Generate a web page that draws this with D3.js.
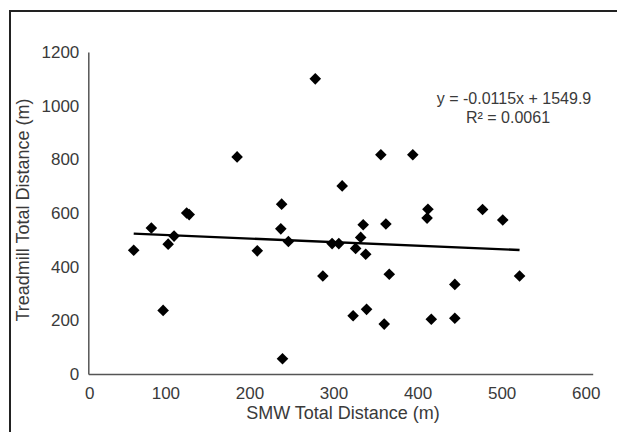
<!DOCTYPE html>
<html>
<head>
<meta charset="utf-8">
<script src="https://cdn.jsdelivr.net/npm/d3@7"></script>
<style>
body { margin:0; background:#fff; }
text { font-family: "Liberation Sans", Arial, sans-serif; fill:#3a3a3a; }
</style>
</head>
<body>
<div id="chart"></div>
<script>
// SMW vs treadmill distance
var smw  = [54, 75, 89, 95, 102, 117, 120, 177, 201, 230, 229, 238, 231, 270, 279, 290, 298, 302,
            315, 318, 324, 327, 330, 331, 348, 352, 354, 358, 386, 404, 403, 408, 436, 436, 469, 493, 513]
var tread = [461, 544, 237, 484, 514, 600, 594, 809, 459, 633, 541, 494, 57, 1100, 365, 486, 486, 701,
             217, 468, 509, 556, 446, 241, 817, 186, 559, 372, 817, 614, 581, 204, 334, 208, 613, 574, 365]
// trendline ends as drawn
var trendX = [54, 513]
var trendY = [523, 462]
var xTicks = [0, 100, 200, 300, 400, 500, 600]
var yTicks = [0, 200, 400, 600, 800, 1000, 1200]
var eqLines = ['y = -0.0115x + 1549.9', 'R² = 0.0061']

var W = 617, H = 432
var svg = d3.select('#chart').append('svg').attr('width', W).attr('height', H)

// outer frame
svg.append('path').attr('d', 'M10,432 V11 H617')
   .attr('fill', 'none').attr('stroke', '#222').attr('stroke-width', 2)

var x = d3.scaleLinear().domain([0, 600]).range([88.3, 592.7])
var y = d3.scaleLinear().domain([0, 1200]).range([374, 52])

var gx = svg.append('g').attr('transform', 'translate(0,374)')
	.call(d3.axisBottom(x).tickValues(xTicks).tickFormat(d3.format('d')).tickSize(0).tickPadding(0))
gx.select('.domain').attr('stroke', '#555').attr('stroke-width', 1.5)
gx.selectAll('text').attr('y', 25).attr('dy', 0)
	.attr('dx', d => d === 0 ? 1 : -7)
	.style('font-size', '17px').attr('font-family', null).attr('fill', '#3a3a3a')

var gy = svg.append('g').attr('transform', 'translate(88.3,0)')
	.call(d3.axisLeft(y).tickValues(yTicks).tickFormat(d3.format('d')).tickSize(0).tickPadding(9))
gy.select('.domain').attr('stroke', '#555').attr('stroke-width', 1.5)
gy.selectAll('text').style('font-size', '17px').attr('font-family', null).attr('fill', '#3a3a3a')

svg.append('text').attr('x', 343).attr('y', 419).attr('text-anchor', 'middle')
   .style('font-size', '18px').text('SMW Total Distance (m)')
svg.append('text').attr('transform', 'translate(29,210) rotate(-90)').attr('text-anchor', 'middle')
   .style('font-size', '18px').text('Treadmill Total Distance (m)')

// points
var diamond = 'M0,-5.8L5.8,0L0,5.8L-5.8,0Z'
svg.append('g').selectAll('path').data(smw).join('path')
	.attr('d', diamond)
	.attr('transform', (d, i) => 'translate(' + x(d) + ',' + y(tread[i]) + ')')
	.attr('fill', '#000')

// trendline
svg.append('path')
	.attr('d', d3.line().x(d => x(d[0])).y(d => y(d[1]))(trendX.map((d, i) => [d, trendY[i]])))
	.attr('stroke', '#000').attr('stroke-width', 2.4).attr('fill', 'none')

// equation
svg.append('text').attr('x', 514).attr('y', 104).attr('text-anchor', 'middle')
   .style('font-size', '16px').text(eqLines[0])
svg.append('text').attr('x', 508).attr('y', 123).attr('text-anchor', 'middle')
   .style('font-size', '16px').text(eqLines[1])
</script>
</body>
</html>
